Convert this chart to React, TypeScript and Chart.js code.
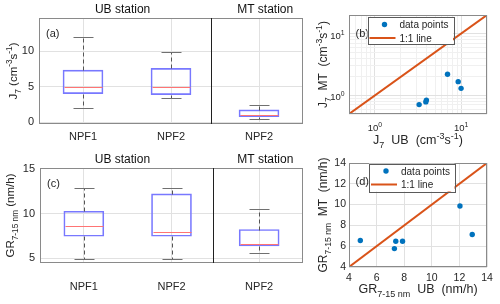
import React, { useEffect, useRef } from 'react';
import { Chart, registerables } from 'chart.js';

Chart.register(...registerables);

// ---------------- data ----------------
const boxCategories = ['NPF1', 'NPF2', 'NPF2'];
const stationLabels = ['UB station', 'MT station'];

// (a) J7 box statistics
const jLower = [2.0, 3.4, 0.38];
const jQ1 = [4.0, 3.85, 0.75];
const jMedian = [5.0, 5.0, 0.95];
const jQ3 = [7.3, 7.55, 1.7];
const jUpper = [12.0, 9.9, 2.4];
const jBoxTicks = [0, 5, 10];

// (c) GR7-15 box statistics
const grLower = [4.9, 4.9, 5.6];
const grQ1 = [7.44, 7.44, 6.35];
const grMedian = [8.56, 7.9, 6.57];
const grQ3 = [10.25, 12.2, 8.2];
const grUpper = [12.9, 12.9, 10.5];
const grBoxTicks = [5, 10, 15];

// (b) J7 UB vs MT (log-log)
const jUB = [3.26, 3.9, 3.96, 6.96, 9.26, 10.0];
const jMT = [0.71, 0.785, 0.84, 2.2, 1.67, 1.3];
const jRange = [0.5, 20];
const logGridValues = [0.5, 0.6, 0.7, 0.8, 0.9, 1, 2, 3, 4, 5, 6, 7, 8, 9, 10, 20];
const logMajorValues = [1, 10];
const logMajorExponents = ['0', '1'];

// (d) GR UB vs MT
const grUB = [4.82, 7.29, 7.39, 7.88, 12.04, 12.93];
const grMT = [6.55, 5.77, 6.48, 6.48, 9.87, 7.13];
const grRange = [4, 14];
const grScatterStep = 2;

const legendLabels = ['data points', '1:1 line'];

// ---------------- style ----------------
const FONT = "'Liberation Sans', Arial, Helvetica, sans-serif";
const TEXT = '#262626';
const TITLE = '#111111';
const GRID = '#e1e1e1';
const GRID_MINOR = '#f0f0f0';
const FRAME = '#8a8a8a';
const SEP = '#202020';
const BOX_BLUE = '#7878ff';
const MEDIAN_RED = '#ff7474';
const WHISKER = '#555555';
const CAP = '#707070';
const POINT_BLUE = '#0072BD';
const LINE_ORANGE = '#D95319';
const LEGEND_EDGE = '#5a5a5a';

const W = 500;
const H = 304;

type Part = [string, number];

function drawRich(
  ctx: CanvasRenderingContext2D,
  parts: Part[],
  x: number,
  y: number,
  size: number,
  align: 'left' | 'center' | 'right',
  rotate: boolean,
  color: string
) {
  ctx.save();
  ctx.translate(x, y);
  if (rotate) ctx.rotate(-Math.PI / 2);
  ctx.fillStyle = color;
  ctx.textAlign = 'left';
  ctx.textBaseline = 'alphabetic';
  const fontOf = (k: number) => `${k === 0 ? size : size * 0.72}px ${FONT}`;
  const widths = parts.map(([t, k]) => {
    ctx.font = fontOf(k);
    return ctx.measureText(t).width;
  });
  const total = widths.reduce((s, w) => s + w, 0);
  let cx = align === 'center' ? -total / 2 : align === 'right' ? -total : 0;
  const base = size * 0.36;
  parts.forEach(([t, k], i) => {
    ctx.font = fontOf(k);
    const dy = k > 0 ? -size * 0.42 : k < 0 ? size * 0.34 : 0;
    ctx.fillText(t, cx, base + dy);
    cx += widths[i];
  });
  ctx.restore();
}

function seg(ctx: CanvasRenderingContext2D, x1: number, y1: number, x2: number, y2: number) {
  ctx.beginPath();
  ctx.moveTo(x1, y1);
  ctx.lineTo(x2, y2);
  ctx.stroke();
}

function zeroPad(s: any) {
  s.paddingTop = 0;
  s.paddingBottom = 0;
  s.paddingLeft = 0;
  s.paddingRight = 0;
}

function drawFrame(ctx: CanvasRenderingContext2D, a: any) {
  ctx.save();
  ctx.strokeStyle = FRAME;
  ctx.lineWidth = 1;
  ctx.strokeRect(Math.round(a.left) + 0.5, Math.round(a.top) + 0.5, Math.round(a.right - a.left) - 1, Math.round(a.bottom - a.top) - 1);
  ctx.restore();
}

// ---------------- box panels ----------------
interface BoxPanel {
  name: string;
  lower: number[];
  q1: number[];
  median: number[];
  q3: number[];
  upper: number[];
  ticks: number[];
  min: number;
  max: number;
  area: { left: number; right: number; top: number; bottom: number };
  xPad: number;
  yPad: number;
  sep: number;
  stationPos: number[];
  letter: string;
  ylabel: Part[];
  ylabelX: number;
}

function boxPlugin(p: BoxPanel) {
  return {
    id: 'boxDecor',
    afterDatasetsDraw(chart: any) {
      const { ctx, scales } = chart;
      const x = scales.x;
      const y = scales.y;
      const bars = chart.getDatasetMeta(0).data;
      const py = (v: number) => Math.round(y.getPixelForValue(v)) + 0.5;
      ctx.save();
      ctx.lineWidth = 1;
      p.median.forEach((m, i) => {
        const cx = Math.round(x.getPixelForValue(i)) + 0.5;
        const half = bars[i].width / 2;
        ctx.strokeStyle = WHISKER;
        ctx.setLineDash([4, 3]);
        seg(ctx, cx, py(p.q3[i]), cx, py(p.upper[i]));
        seg(ctx, cx, py(p.q1[i]), cx, py(p.lower[i]));
        ctx.setLineDash([]);
        ctx.strokeStyle = CAP;
        seg(ctx, cx - half / 2, py(p.upper[i]), cx + half / 2, py(p.upper[i]));
        seg(ctx, cx - half / 2, py(p.lower[i]), cx + half / 2, py(p.lower[i]));
        ctx.strokeStyle = MEDIAN_RED;
        seg(ctx, cx - half + 1, py(m), cx + half - 1, py(m));
      });
      ctx.restore();
    },
    afterDraw(chart: any) {
      const { ctx, chartArea: a, scales } = chart;
      const x = scales.x;
      drawFrame(ctx, a);
      ctx.save();
      ctx.strokeStyle = SEP;
      ctx.lineWidth = 1;
      const sx = Math.round(x.getPixelForValue(p.sep)) + 0.5;
      seg(ctx, sx, a.top, sx, a.bottom);
      ctx.restore();
      stationLabels.forEach((t, k) => {
        drawRich(ctx, [[t, 0]], x.getPixelForValue(p.stationPos[k]), a.top - 9, 12, 'center', false, TITLE);
      });
      drawRich(ctx, [[p.letter, 0]], a.left + 7, a.top + 15, 11, 'left', false, TEXT);
      drawRich(ctx, p.ylabel, p.ylabelX, (a.top + a.bottom) / 2, 11.5, 'center', true, TEXT);
    },
  };
}

function boxConfig(p: BoxPanel): any {
  const yW = 40;
  const xH = 30;
  return {
    type: 'bar',
    data: {
      labels: boxCategories,
      datasets: [
        {
          label: p.name,
          data: p.q1.map((v, i) => [v, p.q3[i]]),
          backgroundColor: 'rgba(0,0,0,0)',
          borderColor: BOX_BLUE,
          borderWidth: 1,
          borderSkipped: false,
          barThickness: 40,
        },
      ],
    },
    options: {
      responsive: false,
      animation: false,
      events: [],
      layout: {
        autoPadding: false,
        padding: { left: p.area.left - yW, right: W - p.area.right, top: p.area.top, bottom: H - p.area.bottom - xH },
      },
      plugins: { legend: { display: false }, tooltip: { enabled: false } },
      scales: {
        x: {
          type: 'category',
          offset: true,
          grid: { offset: false, color: GRID, drawTicks: false },
          border: { display: false },
          ticks: { color: TEXT, font: { family: FONT, size: 11 }, padding: p.xPad, maxRotation: 0, autoSkip: false },
          afterFit: (s: any) => {
            s.height = xH;
            zeroPad(s);
          },
        },
        y: {
          type: 'linear',
          min: p.min,
          max: p.max,
          afterBuildTicks: (s: any) => {
            s.ticks = p.ticks.map((v) => ({ value: v }));
          },
          grid: { color: GRID, drawTicks: false },
          border: { display: false },
          ticks: { color: TEXT, font: { family: FONT, size: 11 }, padding: p.yPad },
          afterFit: (s: any) => {
            s.width = yW;
            zeroPad(s);
          },
        },
      },
    },
    plugins: [boxPlugin(p)],
  };
}

const panelA: BoxPanel = {
  name: 'J7',
  lower: jLower,
  q1: jQ1,
  median: jMedian,
  q3: jQ3,
  upper: jUpper,
  ticks: jBoxTicks,
  min: -0.28,
  max: 14.65,
  area: { left: 39, right: 303, top: 18, bottom: 124 },
  xPad: 6,
  yPad: 5,
  sep: 1.45,
  stationPos: [0.45, 2.07],
  letter: '(a)',
  ylabel: [['J', 0], ['7', -1], [' (cm', 0], ['-3', 1], ['s', 0], ['-1', 1], [')', 0]],
  ylabelX: 12.5,
};

const panelC: BoxPanel = {
  name: 'GR7-15',
  lower: grLower,
  q1: grQ1,
  median: grMedian,
  q3: grQ3,
  upper: grUpper,
  ticks: grBoxTicks,
  min: 4.44,
  max: 15.11,
  area: { left: 40, right: 303, top: 168, bottom: 263 },
  xPad: 17,
  yPad: 5,
  sep: 1.47,
  stationPos: [0.44, 2.07],
  letter: '(c)',
  ylabel: [['GR', 0], ['7-15 nm', -1], [' (nm/h)', 0]],
  ylabelX: 10,
};

// ---------------- scatter panels ----------------
interface ScatterPanel {
  log: boolean;
  xs: number[];
  ys: number[];
  range: number[];
  area: { left: number; right: number; top: number; bottom: number };
  letter: string;
  legend: { x: number; y: number; w: number; h: number };
  ylabel: Part[];
  xlabel: Part[];
  xlabelY: number;
}

function drawLegend(chart: any, box: { x: number; y: number; w: number; h: number }) {
  const { ctx } = chart;
  const ds = chart.data.datasets;
  ctx.save();
  ctx.fillStyle = '#ffffff';
  ctx.fillRect(box.x, box.y, box.w, box.h);
  ctx.strokeStyle = LEGEND_EDGE;
  ctx.lineWidth = 1;
  ctx.strokeRect(Math.round(box.x) + 0.5, Math.round(box.y) + 0.5, Math.round(box.w), Math.round(box.h));
  const r1 = box.y + 7.5;
  const r2 = box.y + 21;
  ctx.fillStyle = ds[0].backgroundColor;
  ctx.beginPath();
  ctx.arc(box.x + 17, r1, 2.7, 0, Math.PI * 2);
  ctx.fill();
  ctx.strokeStyle = ds[1].borderColor;
  ctx.lineWidth = 2;
  seg(ctx, box.x + 2, r2, box.x + 28, r2);
  ctx.restore();
  drawRich(ctx, [[ds[0].label, 0]], box.x + 32, r1, 10, 'left', false, TEXT);
  drawRich(ctx, [[ds[1].label, 0]], box.x + 32, r2, 10, 'left', false, TEXT);
}

function scatterPlugin(p: ScatterPanel) {
  return {
    id: 'scatterDecor',
    afterDraw(chart: any) {
      const { ctx, chartArea: a, scales } = chart;
      drawFrame(ctx, a);
      if (p.log) {
        logMajorValues.forEach((v, k) => {
          const px = scales.x.getPixelForValue(v);
          drawRich(ctx, [['10', 0], [logMajorExponents[k], 1]], px, a.bottom + 14, 9.5, 'center', false, TEXT);
          const pyv = scales.y.getPixelForValue(v);
          drawRich(ctx, [['10', 0], [logMajorExponents[k], 1]], a.left - 4.5, pyv + 1.5, 9.5, 'right', false, TEXT);
        });
      }
      drawRich(ctx, [[p.letter, 0]], a.left + 6.5, a.top + 18.5, 11, 'left', false, TEXT);
      drawLegend(chart, p.legend);
      drawRich(ctx, p.ylabel, 323, (a.top + a.bottom) / 2, 12, 'center', true, TEXT);
      drawRich(ctx, p.xlabel, (a.left + a.right) / 2, p.xlabelY, 12.5, 'center', false, TEXT);
    },
  };
}

function scatterConfig(p: ScatterPanel): any {
  const yW = p.log ? 0 : 30;
  const xH = p.log ? 0 : 20;
  const axis = (isX: boolean) => {
    if (p.log) {
      return {
        type: 'logarithmic',
        min: p.range[0],
        max: p.range[1],
        afterBuildTicks: (s: any) => {
          s.ticks = logGridValues.map((v) => ({ value: v, major: logMajorValues.includes(v) }));
        },
        ticks: { display: false, autoSkip: false },
        grid: {
          color: (c: any) => (c.tick && logMajorValues.includes(c.tick.value) ? GRID : GRID_MINOR),
          drawTicks: false,
        },
        border: { display: false },
        afterFit: (s: any) => {
          if (isX) s.height = xH;
          else s.width = yW;
          zeroPad(s);
        },
      };
    }
    return {
      type: 'linear',
      min: p.range[0],
      max: p.range[1],
      ticks: {
        stepSize: grScatterStep,
        color: TEXT,
        font: { family: FONT, size: 10.5 },
        padding: isX ? 5 : 3,
        maxRotation: 0,
        autoSkip: false,
      },
      grid: { color: GRID, drawTicks: false },
      border: { display: false },
      afterFit: (s: any) => {
        if (isX) s.height = xH;
        else s.width = yW;
        zeroPad(s);
      },
    };
  };
  return {
    type: 'scatter',
    data: {
      datasets: [
        {
          label: legendLabels[0],
          data: p.xs.map((v, i) => ({ x: v, y: p.ys[i] })),
          backgroundColor: POINT_BLUE,
          borderWidth: 0,
          pointRadius: 2.7,
        },
        {
          label: legendLabels[1],
          data: p.range.map((v) => ({ x: v, y: v })),
          showLine: true,
          borderColor: LINE_ORANGE,
          backgroundColor: LINE_ORANGE,
          borderWidth: 2,
          pointRadius: 0,
        },
      ],
    },
    options: {
      responsive: false,
      animation: false,
      events: [],
      layout: {
        autoPadding: false,
        padding: { left: p.area.left - yW, right: W - p.area.right, top: p.area.top, bottom: H - p.area.bottom - xH },
      },
      plugins: { legend: { display: false }, tooltip: { enabled: false } },
      scales: { x: axis(true), y: axis(false) },
    },
    plugins: [scatterPlugin(p)],
  };
}

const panelB: ScatterPanel = {
  log: true,
  xs: jUB,
  ys: jMT,
  range: jRange,
  area: { left: 349, right: 487, top: 15, bottom: 114 },
  letter: '(b)',
  legend: { x: 367.5, y: 17, w: 85.5, h: 27 },
  ylabel: [['J', 0], ['7', -1], ['  MT  (cm', 0], ['-3', 1], ['s', 0], ['-1', 1], [')', 0]],
  xlabel: [['J', 0], ['7', -1], ['  UB  (cm', 0], ['-3', 1], ['s', 0], ['-1', 1], [')', 0]],
  xlabelY: 139.5,
};

const panelD: ScatterPanel = {
  log: false,
  xs: grUB,
  ys: grMT,
  range: grRange,
  area: { left: 349, right: 487, top: 163, bottom: 267 },
  letter: '(d)',
  legend: { x: 369, y: 163.5, w: 85.5, h: 28 },
  ylabel: [['GR', 0], ['7-15 nm', -1], ['  MT  (nm/h)', 0]],
  xlabel: [['GR', 0], ['7-15 nm', -1], ['  UB  (nm/h)', 0]],
  xlabelY: 288,
};

export default function App() {
  const r1 = useRef<HTMLCanvasElement>(null);
  const r2 = useRef<HTMLCanvasElement>(null);
  const r3 = useRef<HTMLCanvasElement>(null);
  const r4 = useRef<HTMLCanvasElement>(null);
  const refs = [r1, r2, r3, r4];

  useEffect(() => {
    const configs = [boxConfig(panelA), scatterConfig(panelB), boxConfig(panelC), scatterConfig(panelD)];
    const charts = configs.map((cfg, i) => new Chart(refs[i].current as HTMLCanvasElement, cfg));
    return () => charts.forEach((c) => c.destroy());
  }, []);

  return (
    <div style={{ position: 'fixed', left: 0, top: 0, width: W, height: H, background: '#ffffff', overflow: 'hidden' }}>
      {refs.map((r, i) => (
        <canvas key={i} ref={r} width={W} height={H} style={{ position: 'absolute', left: 0, top: 0, width: W, height: H }} />
      ))}
    </div>
  );
}
